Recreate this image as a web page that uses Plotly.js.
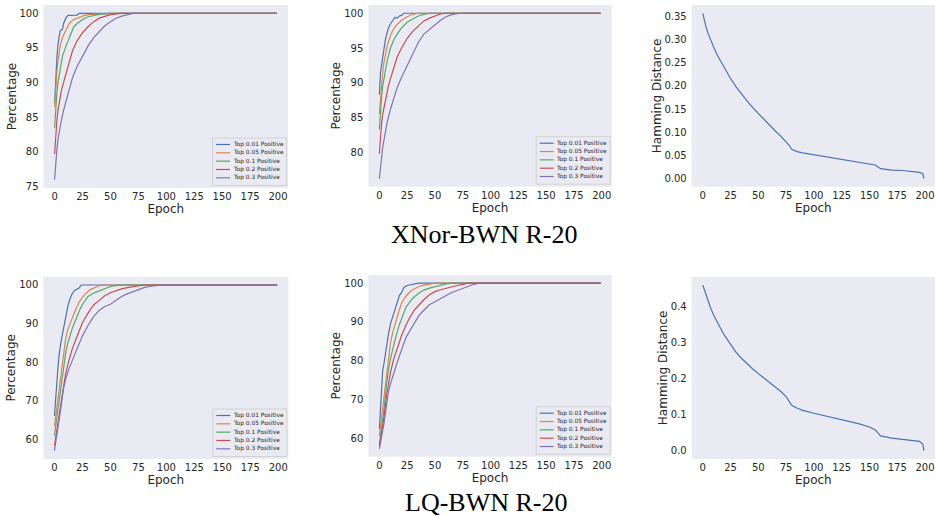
<!DOCTYPE html>
<html><head><meta charset="utf-8">
<script src="https://cdn.plot.ly/plotly-3.0.1.min.js"></script>
<style>html,body{margin:0;padding:0;background:#fff;}#chart{width:935px;height:516px;}</style>
</head><body><div id="chart"></div>
<script>
// ---------- data ----------
const seriesNames = ['Top 0.01 Positive','Top 0.05 Positive','Top 0.1 Positive','Top 0.2 Positive','Top 0.3 Positive'];
const seriesColors = ['#4C72B0','#DD8452','#55A868','#C44E52','#8172B3'];
const epochTicks = [0,25,50,75,100,125,150,175,200];
const captions = ['XNor-BWN R-20','LQ-BWN R-20'];

// XNor-BWN R-20 : percentage (left panel)
const xnorA_ep01 = [0,1,2,3,4,5,6,7,8,10,12,15,20,22,199];
const xnorA_v01  = [87,91,93.5,95.5,96.8,97.5,97.6,97.7,98.5,99.3,99.7,99.75,99.75,100,100];
const xnorA_ep05 = [0,1,2,3,4,5,7,10,13,16,20,25,30,40,50,199];
const xnorA_v05  = [86.5,89.5,91.5,93,94.3,95.3,96.5,97.5,98.5,99,99.3,99.6,99.8,99.95,100,100];
const xnorA_ep1  = [0,1,2,3,5,7,10,13,17,20,25,30,40,50,199];
const xnorA_v1   = [83.5,86.5,88.5,90,92,93.8,95.2,96.5,98,98.5,99.1,99.5,99.85,100,100];
const xnorA_ep2  = [0,1,2,3,4,6,8,10,13,16,20,25,30,35,40,50,60,199];
const xnorA_v2   = [79.7,82.5,84.5,86,87,88.8,90,91.2,93,94.6,96,97.2,98.1,98.8,99.3,99.8,100,100];
const xnorA_ep3  = [0,1,2,3,4,6,8,10,13,16,20,25,30,35,40,45,50,55,60,65,70,199];
const xnorA_v3   = [76,78.5,80.3,81.8,82.8,84.5,86,87.2,89,90.7,92.3,93.8,95.3,96.5,97.4,98.2,98.8,99.3,99.6,99.85,100,100];

// XNor-BWN R-20 : percentage (middle panel)
const xnorB_ep01 = [0,1,2,3,4,5,6,7,8,10,12,14,16,18,20,22,199];
const xnorB_v01  = [88.3,91.5,92.5,93.8,94.8,95.8,96.6,97.2,97.8,98.5,99,99.4,99.3,99.6,99.7,100,100];
const xnorB_ep05 = [0,1,2,3,4,5,7,10,13,16,20,25,30,35,199];
const xnorB_v05  = [85.5,88,90,91.5,92.8,93.8,95.3,96.8,97.8,98.4,99,99.5,99.85,100,100];
const xnorB_ep1  = [0,1,2,3,5,7,10,13,16,20,25,30,35,40,45,199];
const xnorB_v1   = [83.3,86,88,89.5,91.5,93.2,95,96.2,97,97.9,98.7,99.2,99.6,99.85,100,100];
const xnorB_ep2  = [0,1,2,3,4,6,8,10,13,16,20,25,30,35,40,45,50,55,60,199];
const xnorB_v2   = [79.8,82.5,84.2,85.5,86.4,88,89.4,90.6,92.3,93.7,95,96.4,97.4,98.2,98.9,99.3,99.65,99.9,100,100];
const xnorB_ep3  = [0,1,2,3,5,7,10,13,16,20,25,30,35,40,45,50,55,60,65,70,75,199];
const xnorB_v3   = [76.2,78,79.5,80.7,82.5,84.3,86.2,87.8,89.3,90.8,92.5,94.2,95.8,97,97.7,98.4,99,99.5,99.8,99.95,100,100];

// XNor-BWN R-20 : Hamming distance
const xnorHamEp = [0,1,2,3,5,7,10,13,15,18,20,25,30,35,40,45,50,55,60,65,70,75,78,80,85,90,100,110,125,140,150,155,160,170,180,190,195,198,199];
const xnorHam   = [0.357,0.346,0.336,0.327,0.312,0.299,0.283,0.267,0.258,0.245,0.236,0.216,0.198,0.182,0.167,0.153,0.140,0.127,0.115,0.103,0.092,0.080,0.071,0.063,0.058,0.055,0.051,0.047,0.041,0.036,0.032,0.029,0.021,0.018,0.017,0.015,0.013,0.010,0.0];

// LQ-BWN R-20 : percentage (left panel)
const lqA_ep01 = [0,1,2,3,4,5,6,8,10,12,14,16,18,20,22,24,199];
const lqA_v01  = [66,71,75,78,81.5,84,85.5,88.5,92,94.5,96.5,97.8,98.6,98.8,99.2,100,100];
const lqA_ep05 = [0,2,4,6,8,10,12,14,16,18,20,22,25,28,32,36,40,45,199];
const lqA_v05  = [63.4,68,73,77.5,82,86,88.5,90.2,91.8,93,94.3,95.5,96.8,97.8,98.8,99.4,99.8,100,100];
const lqA_ep1  = [0,2,4,6,8,10,12,14,16,18,20,23,26,30,35,40,45,50,55,60,199];
const lqA_v1   = [60.9,65,70,74,78.5,82.3,85,87.2,88.8,90.2,91.8,93.8,95.4,97,97.9,98.4,99.1,99.6,99.85,100,100];
const lqA_ep2  = [0,2,4,6,8,10,13,16,20,25,30,35,40,45,50,55,60,65,70,75,80,199];
const lqA_v2   = [58.3,62,66,69.8,73.5,77,80.5,83.5,86.5,90.2,92.7,94.8,96,97.2,98,98.6,99,99.3,99.6,99.8,100,100];
const lqA_ep3  = [0,2,4,6,8,10,13,16,20,25,30,35,40,45,50,55,60,65,70,75,80,85,90,95,199];
const lqA_v3   = [57,60.5,64.5,68.5,73,75.5,78.3,80.5,83.4,86.8,89.5,91.8,93.4,94.4,95,96,97,97.7,98.3,98.9,99.3,99.6,99.85,100,100];

// LQ-BWN R-20 : percentage (middle panel)
const lqB_ep01 = [0,1,2,3,4,5,6,8,10,12,14,16,18,20,22,25,28,32,35,199];
const lqB_v01  = [62.3,68,72.5,77.5,79,81,83,86.5,89.5,91.5,93.5,95.5,96.8,97.6,98.9,99.4,99.6,99.8,100,100];
const lqB_ep05 = [0,2,4,6,8,10,12,14,16,18,20,22,25,28,32,36,40,45,50,199];
const lqB_v05  = [60.6,65.5,71,76.5,81,84.6,87.3,89.5,91.5,93.2,94.8,95.9,97,97.9,98.6,99.2,99.5,99.8,100,100];
const lqB_ep1  = [0,2,4,6,8,10,12,15,18,21,24,27,30,35,40,45,50,55,60,65,199];
const lqB_v1   = [58.5,62.5,67,72.5,77.5,80.5,83,86.4,89.3,91.8,93.8,95,96.1,97.3,98.2,98.7,99.1,99.5,99.8,100,100];
const lqB_ep2  = [0,2,4,6,8,10,13,16,20,24,28,32,36,40,45,50,55,60,65,70,75,80,199];
const lqB_v2   = [58,61,65,70,74,77,80.5,83.2,86.5,89.2,91.5,93.2,94.5,95.7,97,97.8,98.3,98.7,99.1,99.4,99.7,100,100];
const lqB_ep3  = [0,2,4,6,8,10,13,16,20,24,28,32,36,40,45,50,55,60,65,70,75,80,85,90,199];
const lqB_v3   = [57.2,60,63.5,67.5,71.8,74,77,79.5,82.8,86,88,90,91.8,93,94.4,95.2,96,97,97.6,98.1,98.7,99.3,99.7,100,100];

// LQ-BWN R-20 : Hamming distance
const lqHamEp = [0,1,2,3,5,7,10,13,15,18,20,25,30,35,40,45,50,55,60,65,70,75,78,80,85,90,100,110,125,140,150,155,158,160,170,180,190,195,198,199];
const lqHam   = [0.460,0.450,0.440,0.430,0.413,0.397,0.375,0.356,0.345,0.328,0.318,0.294,0.273,0.256,0.241,0.227,0.214,0.202,0.190,0.178,0.165,0.150,0.136,0.126,0.118,0.112,0.104,0.097,0.086,0.075,0.066,0.058,0.048,0.041,0.035,0.032,0.029,0.026,0.018,0.0];

// ---------- layout helpers ----------
const W = 935, H = 516;
const px = v => v / W;
const py = v => 1 - v / H;
const TXT = '#262626';
const BG = '#EAEAF2';

// panel boxes in pixels [left, right, top, bottom]
const panels = [
  {box:[43.5,288,5,188],     yr:[74.8,101.2],   yt:[75,80,85,90,95,100], fmt:'', ytitle:'Percentage'},
  {box:[368.3,611.7,5,186.7],yr:[75.05,101.19], yt:[80,85,90,95,100],    fmt:'', ytitle:'Percentage'},
  {box:[691.7,935,5,186.7],  yr:[-0.018,0.375], yt:[0,0.05,0.1,0.15,0.2,0.25,0.3,0.35], fmt:'.2f', ytitle:'Hamming Distance'},
  {box:[43.3,288.3,276.7,459],yr:[54.85,102.15],yt:[60,70,80,90,100], fmt:'', ytitle:'Percentage'},
  {box:[368.3,611.7,275,456.7],yr:[55.2,102.1], yt:[60,70,80,90,100], fmt:'', ytitle:'Percentage'},
  {box:[691.7,935,276.7,459],yr:[-0.023,0.483], yt:[0,0.1,0.2,0.3,0.4], fmt:'.1f', ytitle:'Hamming Distance'}
];

const pctSets = [
  [[xnorA_ep01,xnorA_v01],[xnorA_ep05,xnorA_v05],[xnorA_ep1,xnorA_v1],[xnorA_ep2,xnorA_v2],[xnorA_ep3,xnorA_v3]],
  [[xnorB_ep01,xnorB_v01],[xnorB_ep05,xnorB_v05],[xnorB_ep1,xnorB_v1],[xnorB_ep2,xnorB_v2],[xnorB_ep3,xnorB_v3]],
  null,
  [[lqA_ep01,lqA_v01],[lqA_ep05,lqA_v05],[lqA_ep1,lqA_v1],[lqA_ep2,lqA_v2],[lqA_ep3,lqA_v3]],
  [[lqB_ep01,lqB_v01],[lqB_ep05,lqB_v05],[lqB_ep1,lqB_v1],[lqB_ep2,lqB_v2],[lqB_ep3,lqB_v3]],
  null
];
const hamSets = {2:[xnorHamEp,xnorHam], 5:[lqHamEp,lqHam]};

const traces = [];
const layout = {
  width: W, height: H,
  margin:{l:0,r:0,t:0,b:0},
  paper_bgcolor:'#ffffff',
  showlegend:false,
  font:{family:'DejaVu Sans, sans-serif', color:TXT, size:10},
  shapes:[], annotations:[]
};

panels.forEach((p,i)=>{
  const n = i+1;
  const xa = 'xaxis'+(n===1?'':n), ya = 'yaxis'+(n===1?'':n);
  const xr = 'x'+(n===1?'':n), yr = 'y'+(n===1?'':n);
  const [l,r,t,b] = p.box;
  layout[xa] = {
    domain:[px(l),px(r)], anchor:yr, range:[-9.95,208.95],
    tickvals:epochTicks, showgrid:false, zeroline:false, showline:false, ticks:'',
    tickfont:{size:10,color:TXT}, ticklabelstandoff:1,
    title:{text:'Epoch', font:{size:12,color:TXT}, standoff:0}
  };
  layout[ya] = {
    domain:[py(b),py(t)], anchor:xr, range:p.yr,
    tickvals:p.yt, tickformat:p.fmt, showgrid:false, zeroline:false, showline:false, ticks:'',
    tickfont:{size:10,color:TXT}, ticklabelstandoff:4,
    title:{text:p.ytitle, font:{size:12,color:TXT}, standoff:0}
  };
  layout.shapes.push({type:'rect', xref:'paper', yref:'paper', x0:px(l), x1:px(r), y0:py(b), y1:py(t),
    fillcolor:BG, line:{width:0}, layer:'below'});
  if(pctSets[i]){
    pctSets[i].forEach((s,k)=>{
      traces.push({x:s[0], y:s[1], xaxis:xr, yaxis:yr, type:'scatter', mode:'lines',
        name:seriesNames[k], line:{color:seriesColors[k], width:1.2}});
    });
    // legend box at lower right
    const bx1 = r-1.5, by1 = b-2.5, bx0 = bx1-74, by0 = by1-47.5;
    layout.shapes.push({type:'rect', xref:'paper', yref:'paper', x0:px(bx0), x1:px(bx1), y0:py(by1), y1:py(by0),
      fillcolor:'rgba(234,234,242,0.8)', line:{color:'#CCCCCC', width:0.8}});
    seriesNames.forEach((nm,k)=>{
      const yy = by0 + 6.5 + k*8.33;
      layout.shapes.push({type:'line', xref:'paper', yref:'paper', x0:px(bx0+3.5), x1:px(bx0+17.5), y0:py(yy), y1:py(yy),
        line:{color:seriesColors[k], width:1.2}});
      layout.annotations.push({xref:'paper', yref:'paper', x:px(bx0+19), y:py(yy), xanchor:'left', yanchor:'middle',
        text:nm, showarrow:false, borderpad:0, font:{size:5.9, color:TXT}});
    });
  } else {
    const h = hamSets[i];
    traces.push({x:h[0], y:h[1], xaxis:xr, yaxis:yr, type:'scatter', mode:'lines',
      line:{color:seriesColors[0], width:1.2}});
  }
});

// captions
layout.annotations.push({xref:'paper', yref:'paper', x:px(485), y:py(234.5), xanchor:'center', yanchor:'middle',
  text:captions[0], showarrow:false, font:{family:'Liberation Serif, serif', size:26, color:'#000'}});
layout.annotations.push({xref:'paper', yref:'paper', x:px(486), y:py(502.9), xanchor:'center', yanchor:'middle',
  text:captions[1], showarrow:false, font:{family:'Liberation Serif, serif', size:26, color:'#000'}});

Plotly.newPlot('chart', traces, layout, {staticPlot:true, displayModeBar:false});
</script>
</body></html>
